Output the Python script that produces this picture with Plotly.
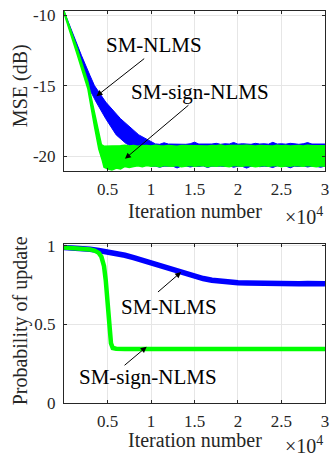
import plotly.graph_objects as go

# ---------------- data ----------------
# Top panel: MSE (dB) envelopes of the noisy learning curves
nlms_mse_up_x = [0, 1000, 2000, 3000, 3500, 4800, 6500, 8600, 10000]
nlms_mse_up_y = [-9.7, -11.3, -12.85, -14.3, -15.0, -16.17, -17.35, -18.5, -18.95]
nlms_mse_lo_x = [0, 1000, 2000, 2800, 3700, 4800, 6000, 7100, 8000, 9000, 10000]
nlms_mse_lo_y = [-9.8, -11.7, -13.5, -15.1, -16.17, -17.35, -18.5, -19.1, -19.4, -20.0, -20.72]
steady_nlms_x = list(range(10500, 30001, 500))
steady_nlms_up = [-19.14, -19.17, -19.06, -19.15, -19.16, -19.13, -19.15, -19.17, -19.13, -19.02,
                  -19.15, -19.16, -19.13, -19.15, -19.1, -19.17, -19.13, -19.15, -19.04, -19.16,
                  -19.13, -19.15, -19.17, -19.1, -19.15, -19.13, -19.16, -19.03, -19.15, -19.13,
                  -19.16, -19.1, -19.15, -19.17, -19.13, -19.05, -19.15, -19.16, -19.13, -19.15]
steady_nlms_lo = [-20.72, -20.8, -20.72, -20.74, -20.72, -20.85, -20.72, -20.7, -20.78, -20.72,
                  -20.74, -20.7, -20.82, -20.72, -20.74, -20.72, -20.74, -20.7, -20.8, -20.72,
                  -20.74, -20.86, -20.72, -20.7, -20.76, -20.72, -20.74, -20.82, -20.7, -20.74,
                  -20.72, -20.84, -20.72, -20.74, -20.7, -20.78, -20.72, -20.74, -20.8, -20.72]

sign_mse_up_x = [0, 1500, 2750, 3500, 4000, 4300, 4600]
sign_mse_up_y = [-9.7, -12.35, -14.75, -16.9, -18.5, -19.2, -19.3]
sign_mse_lo_x = [0, 1500, 2750, 3500, 4000, 4400, 4600]
sign_mse_lo_y = [-9.85, -12.75, -15.25, -17.9, -19.5, -20.3, -20.8]
steady_sign_x = list(range(5000, 30001, 500))
steady_sign_up = [-19.3, -19.26, -19.3, -19.27, -19.24, -19.29, -19.26, -19.3, -19.27, -19.25,
                  -19.29, -19.23, -19.27, -19.29, -19.25, -19.27, -19.3, -19.26, -19.27, -19.23,
                  -19.29, -19.26, -19.27, -19.29, -19.25, -19.27, -19.22, -19.29, -19.26, -19.27,
                  -19.29, -19.25, -19.23, -19.27, -19.29, -19.26, -19.27, -19.25, -19.29, -19.23,
                  -19.27, -19.25, -19.29, -19.27, -19.25, -19.29, -19.23, -19.27, -19.26, -19.29, -19.27]
steady_sign_lo = [-20.9, -21.0, -20.85, -20.92, -20.74, -20.82, -20.74, -20.7, -20.76, -20.68,
                  -20.72, -20.7, -20.76, -20.68, -20.71, -20.73, -20.68, -20.76, -20.7, -20.68,
                  -20.73, -20.7, -20.68, -20.76, -20.7, -20.72, -20.68, -20.71, -20.76, -20.68,
                  -20.7, -20.73, -20.68, -20.71, -20.76, -20.7, -20.68, -20.73, -20.7, -20.68,
                  -20.76, -20.7, -20.72, -20.68, -20.71, -20.73, -20.68, -20.7, -20.76, -20.7, -20.72]

# Bottom panel: probability of update
nlms_prob_x = [0, 1000, 2000, 3000, 4000, 5000, 6000, 7000, 8000, 9000, 10000, 11000,
               12000, 13000, 14000, 15000, 16000, 17000, 18000, 19000, 20000, 21000,
               22000, 23000, 24000, 25000, 26000, 27000, 28000, 29000, 30000]
nlms_prob_y = [0.99, 0.988, 0.985, 0.978, 0.97, 0.962, 0.952, 0.94, 0.925, 0.908, 0.89,
               0.872, 0.855, 0.838, 0.822, 0.805, 0.792, 0.781, 0.773, 0.768, 0.765,
               0.764, 0.762, 0.761, 0.761, 0.76, 0.76, 0.759, 0.76, 0.759, 0.759]
sign_prob_x = [0, 1000, 2000, 3000, 3500, 4000, 4300, 4600, 4800, 5000, 5200, 5400, 5600,
               6000, 7000, 10000, 15000, 20000, 25000, 30000]
sign_prob_y = [0.99, 0.988, 0.984, 0.977, 0.97, 0.955, 0.93, 0.87, 0.78, 0.62, 0.47, 0.38,
               0.35, 0.345, 0.344, 0.344, 0.344, 0.344, 0.344, 0.344]

x_tick_vals = [5000, 10000, 15000, 20000, 25000, 30000]
x_tick_text = ["0.5", "1", "1.5", "2", "2.5", "3"]
mse_ticks = [-20, -15, -10]
prob_ticks = [0, 0.5, 1]

BLUE = "#0000ff"
GREEN = "#00ff00"
FONT = "Liberation Serif, Times New Roman, serif"
AX = "#262626"


def band(ux, uy, lx, ly):
    xs = list(ux) + list(lx)[::-1]
    ys = list(uy) + list(ly)[::-1]
    return xs, ys


fig = go.Figure()

bx, by = band(nlms_mse_up_x + steady_nlms_x, nlms_mse_up_y + steady_nlms_up,
              nlms_mse_lo_x + steady_nlms_x, nlms_mse_lo_y + steady_nlms_lo)
fig.add_trace(go.Scatter(x=bx, y=by, fill="toself", fillcolor=BLUE, mode="lines",
                         line=dict(color=BLUE, width=1), xaxis="x", yaxis="y",
                         hoverinfo="skip", showlegend=False))
gx, gy = band(sign_mse_up_x + steady_sign_x, sign_mse_up_y + steady_sign_up,
              sign_mse_lo_x + steady_sign_x, sign_mse_lo_y + steady_sign_lo)
fig.add_trace(go.Scatter(x=gx, y=gy, fill="toself", fillcolor=GREEN, mode="lines",
                         line=dict(color=GREEN, width=1.5), xaxis="x", yaxis="y",
                         hoverinfo="skip", showlegend=False))

fig.add_trace(go.Scatter(x=nlms_prob_x, y=nlms_prob_y, mode="lines",
                         line=dict(color=BLUE, width=5.5), xaxis="x2", yaxis="y2",
                         showlegend=False))
fig.add_trace(go.Scatter(x=sign_prob_x, y=sign_prob_y, mode="lines",
                         line=dict(color=GREEN, width=4.5), xaxis="x2", yaxis="y2",
                         showlegend=False))

axis_common = dict(showline=True, linecolor=AX, linewidth=1, mirror="ticks",
                   ticks="inside", ticklen=3, tickcolor=AX, showgrid=True,
                   gridcolor="#e6e6e6", gridwidth=1, zeroline=False,
                   ticklabeloverflow="allow",
                   tickfont=dict(family=FONT, size=17, color=AX))

fig.update_layout(
    width=333, height=462,
    margin=dict(l=64, r=4, t=8, b=59),
    font=dict(family=FONT),
    paper_bgcolor="white", plot_bgcolor="white",
    xaxis=dict(domain=[0, 1], range=[0, 30001], tickvals=x_tick_vals,
               ticktext=x_tick_text, anchor="y", ticklabelstandoff=3, **axis_common),
    yaxis=dict(domain=[0.5924, 1], range=[-21.05, -9.7], tickvals=mse_ticks,
               ticktext=[str(v) for v in mse_ticks], anchor="x",
               ticklabelstandoff=4, **axis_common),
    xaxis2=dict(domain=[0, 1], range=[0, 30001], tickvals=x_tick_vals,
                ticktext=x_tick_text, anchor="y2", ticklabelstandoff=3, **axis_common),
    yaxis2=dict(domain=[0, 0.405], range=[0, 1.01], tickvals=prob_ticks,
                ticktext=["0", "0.5", "1"], anchor="x2", ticklabelstandoff=4,
                **axis_common),
)

ann = []
tfont = dict(family=FONT, size=20, color=AX)
lfont = dict(family=FONT, size=21, color="black")
# axis titles
for yp in (0.49, -0.094):
    ann.append(dict(xref="paper", yref="paper", x=0.5, y=yp, text="Iteration number",
                    showarrow=False, font=tfont, xanchor="center", yanchor="middle"))
for yp in (0.478, -0.106):
    ann.append(dict(xref="paper", yref="paper", x=1.0, y=yp, text="×10<sup>4</sup>",
                    showarrow=False, font=tfont, xanchor="right", yanchor="middle"))
ann.append(dict(xref="paper", yref="paper", x=-0.166, y=0.81, text="MSE (dB)",
                textangle=-90, showarrow=False, font=tfont, xanchor="center",
                yanchor="middle"))
ann.append(dict(xref="paper", yref="paper", x=-0.166, y=0.21,
                text="Probability of update", textangle=-90, showarrow=False,
                font=tfont, xanchor="center", yanchor="middle"))

# curve labels
labels = [
    ("x", "y", 10400, -12.1, "SM-NLMS"),
    ("x", "y", 15580, -15.47, "SM-sign-NLMS"),
    ("x2", "y2", 12100, 0.611, "SM-NLMS"),
    ("x2", "y2", 9670, 0.168, "SM-sign-NLMS"),
]
for xr, yr, x, y, t in labels:
    ann.append(dict(xref=xr, yref=yr, x=x, y=y, text=t, showarrow=False, font=lfont,
                    xanchor="center", yanchor="middle"))
arrows = [
    ("x", "y", 3730, -15.75, 9390, -13.0),
    ("x", "y", 7000, -20.2, 14480, -16.3),
    ("x2", "y2", 13460, 0.833, 10630, 0.698),
    ("x2", "y2", 9500, 0.358, 6790, 0.232),
]
for xr, yr, hx, hy, tx, ty in arrows:
    ann.append(dict(xref=xr, yref=yr, x=hx, y=hy, ax=tx, ay=ty, axref=xr, ayref=yr,
                    text="", showarrow=True, arrowhead=2, arrowsize=1.2, arrowwidth=1,
                    arrowcolor="black"))
fig.update_layout(annotations=ann)

# put the figure flush with the window (no default page margin, no scrollbars)
fig.write_html(
    "out.html",
    config={"displayModeBar": False},
    post_script=("document.documentElement.style.overflow='hidden';"
                 "document.body.style.margin='0';"
                 "document.body.style.overflow='hidden';"),
)
